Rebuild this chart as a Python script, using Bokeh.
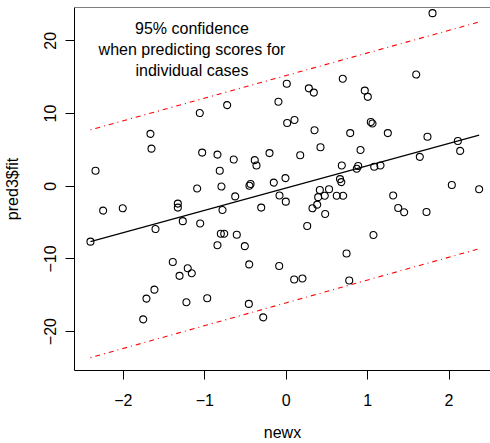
from bokeh.plotting import figure
from bokeh.models import Range1d, FixedTicker, Span
from bokeh.core.properties import value
from bokeh.embed import file_html
from bokeh.resources import INLINE

# ---- data ----
newx = [-0.725, -1.061, -0.095, -1.667, -1.654, -2.342, -1.032, -0.844, -0.644, -0.386,
        -0.365, -0.205, -0.816, -1.093, -0.795, -0.438, -0.451, -0.152, -0.626, -2.404,
        -2.248, -2.007, -1.605, -1.331, -1.331, -1.270, -1.056, -0.782, -0.082, -0.307,
        -0.803, -0.761, -0.607, -0.844, -0.508, -1.393, -1.209, -1.310, -1.159, -0.454,
        -0.086, -1.618, -1.716, -1.225, -0.970, -0.459, -1.756, -0.282, 1.797, 1.597,
        0.007, 0.695, 0.278, 0.339, 0.965, 1.002, 0.012, 0.102, 1.039, 1.060,
        0.348, 0.786, 1.248, 1.735, 2.108, 2.137, 0.172, 0.421, 0.913, 1.641,
        0.683, 0.884, 0.867, 1.081, 1.158, -0.009, 0.661, 0.677, 0.413, 0.526,
        2.034, 2.370, -0.005, 0.393, 0.474, 0.621, 0.700, 1.314, 0.381, 0.323,
        0.479, 1.376, 1.449, 1.723, 0.258, 1.072, 0.741, 0.098, 0.200, 0.774]
score = [11.16, 10.07, 11.63, 7.21, 5.17, 2.14, 4.63, 4.35, 3.67, 3.59,
         2.86, 4.56, 2.14, -0.31, -0.04, 0.30, 0.07, 0.50, -1.40, -7.62,
         -3.35, -3.03, -5.89, -2.39, -2.94, -4.80, -5.12, -3.27, -1.27, -2.94,
         -6.53, -6.53, -6.67, -8.11, -8.24, -10.42, -11.29, -12.33, -11.97, -10.75,
         -10.97, -14.23, -15.46, -15.96, -15.41, -16.19, -18.31, -18.04, 23.81, 15.37,
         14.11, 14.79, 13.47, 12.88, 13.16, 12.30, 8.71, 9.12, 8.84, 8.63,
         7.71, 7.31, 7.31, 6.80, 6.22, 4.86, 4.27, 5.36, 4.99, 4.04,
         2.86, 2.78, 2.41, 2.68, 2.86, 1.12, 0.98, 0.57, -0.52, -0.42,
         0.16, -0.41, -2.12, -1.50, -1.31, -1.31, -1.31, -1.27, -2.53, -3.03,
         -3.81, -2.99, -3.58, -3.54, -5.48, -6.71, -9.25, -12.83, -12.69, -12.97]

fit_x = [-2.404, 2.370]
fit_y = [-7.62, 7.03]
band_x = [-2.404, 2.370]
band_upper = [7.76, 22.60]
band_lower = [-23.58, -8.60]

x_ticks = [-2, -1, 0, 1, 2]
y_ticks = [-20, -10, 0, 10, 20]
x_tick_labels = ["\u22122", "\u22121", "0", "1", "2"]
y_tick_labels = ["\u221220", "\u221210", "0", "10", "20"]

note_text = "95% confidence\nwhen predicting scores for\nindividual cases"
note_x = -1.157
note_y = 18.8

x_label = "newx"
y_label = "pred3$fit"

FONT = "Liberation Sans"

x_lo, x_hi = -2.600, 2.509
y_lo, y_hi = -25.35, 24.59

p = figure(width=490, height=443,
           x_range=Range1d(x_lo, x_hi), y_range=Range1d(y_lo, y_hi),
           output_backend="svg", toolbar_location=None,
           min_border_left=74, min_border_right=0,
           min_border_top=7, min_border_bottom=69)
p.outline_line_color = None
p.background_fill_color = "white"
p.border_fill_color = "white"
p.xgrid.visible = False
p.ygrid.visible = False

for ax, ticks, labels in ((p.xaxis[0], x_ticks, x_tick_labels), (p.yaxis[0], y_ticks, y_tick_labels)):
    ax.ticker = FixedTicker(ticks=ticks)
    ax.major_label_overrides = {t: l for t, l in zip(ticks, labels)}
    ax.major_tick_out = 9
    ax.major_tick_in = 0
    ax.minor_tick_out = 0
    ax.minor_tick_in = 0
    ax.axis_line_color = "black"
    ax.axis_line_width = 1
    ax.major_tick_line_color = "black"
    ax.major_tick_line_width = 1
    ax.major_label_text_font = FONT
    ax.major_label_text_font_size = "16px"
    ax.major_label_text_color = "black"
    ax.axis_label_text_font = FONT
    ax.axis_label_text_font_size = "16px"
    ax.axis_label_text_font_style = "normal"
    ax.axis_label_text_color = "black"

p.xaxis.major_label_standoff = 14
p.yaxis.major_label_standoff = 9

p.xaxis.axis_label = x_label
p.xaxis.axis_label_standoff = 15
p.yaxis.axis_label = y_label
p.yaxis.axis_label_standoff = 21

p.yaxis.major_label_orientation = "vertical"

p.add_layout(Span(location=y_hi, dimension="width", line_color="black", line_width=1))

p.line(band_x, band_upper, line_color="red", line_width=1.1, line_dash="1 4 5 4")
p.line(band_x, band_lower, line_color="red", line_width=1.1, line_dash="1 4 5 4")
p.line(fit_x, fit_y, line_color="black", line_width=1.1)
p.scatter(newx, score, marker="circle", size=7, fill_color=None,
          line_color="black", line_width=1.1)

p.text(x=[note_x], y=[note_y], text=[note_text], text_align="center",
       text_baseline="middle", text_font=value(FONT), text_font_size="16px",
       text_color="black", text_line_height=1.25)

open("out.html", "w").write(file_html(p, INLINE))
